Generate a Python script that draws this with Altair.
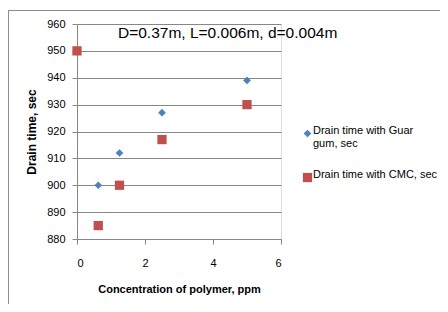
import altair as alt
import pandas as pd

series_names = ["Drain time with Guar gum, sec", "Drain time with CMC, sec"]
guar_x = [0.625, 1.25, 2.5, 5]
guar_y = [900, 912, 927, 939]
cmc_x = [0, 0.625, 1.25, 2.5, 5]
cmc_y = [950, 885, 900, 917, 930]
x_ticks = [0, 2, 4, 6]
y_ticks = [880, 890, 900, 910, 920, 930, 940, 950, 960]
chart_title = "D=0.37m, L=0.006m, d=0.004m"
x_title = "Concentration of polymer, ppm"
y_title = "Drain time, sec"

rows = []
for xv, yv in zip(guar_x, guar_y):
    rows.append({"series": series_names[0], "x": xv, "y": yv})
for xv, yv in zip(cmc_x, cmc_y):
    rows.append({"series": series_names[1], "x": xv, "y": yv})
df = pd.DataFrame(rows)

FONT = "Liberation Sans"
GRAY = "#878787"

legend = alt.Legend(
    title=None,
    orient="none",
    legendX=225,
    legendY=104,
    padding=0,
    labelFont=FONT,
    labelFontSize=11,
    labelColor="#000000",
    labelLimit=0,
    labelOffset=0,
    labelBaseline="alphabetic",
    rowPadding=19,
    labelExpr="datum.label == 'Drain time with Guar gum, sec' ? ['Drain time with Guar', 'gum, sec'] : datum.label",
)

points = alt.Chart(df).mark_point(filled=True, opacity=1, strokeWidth=0).encode(
    x=alt.X(
        "x:Q",
        scale=alt.Scale(domain=[0, 6], nice=False, zero=False),
        axis=alt.Axis(
            values=x_ticks,
            grid=False,
            title=x_title,
            titleFont=FONT,
            titleFontSize=11,
            titleFontWeight="bold",
            titleColor="#000000",
            titleY=50,
            titleBaseline="middle",
            labelFont=FONT,
            labelFontSize=11,
            labelColor="#000000",
            labelPadding=13,
            tickSize=5,
            tickColor=GRAY,
            domainColor=GRAY,
        ),
    ),
    y=alt.Y(
        "y:Q",
        scale=alt.Scale(domain=[880, 960], nice=False, zero=False),
        axis=alt.Axis(
            values=y_ticks,
            grid=True,
            gridColor=GRAY,
            title=y_title,
            titleFont=FONT,
            titleFontSize=12,
            titleFontWeight="bold",
            titleColor="#000000",
            titleX=-46,
            titleBaseline="middle",
            labelFont=FONT,
            labelFontSize=11,
            labelColor="#000000",
            labelPadding=7,
            tickSize=5,
            tickColor=GRAY,
            domainColor=GRAY,
        ),
    ),
    color=alt.Color(
        "series:N",
        scale=alt.Scale(domain=series_names, range=["#4F81BD", "#C0504D"]),
        legend=legend,
    ),
    shape=alt.Shape(
        "series:N",
        scale=alt.Scale(domain=series_names, range=["diamond", "square"]),
        legend=legend,
    ),
    size=alt.Size(
        "series:N",
        scale=alt.Scale(domain=series_names, range=[60, 86]),
        legend=legend,
    ),
)

frame_df = pd.DataFrame({"k": [0]})
top_border = alt.Chart(frame_df).mark_rule(color="#8c8c8c", strokeWidth=1).encode(
    x=alt.value(-69), x2=alt.value(400), y=alt.value(-13.5)
)
left_border = alt.Chart(frame_df).mark_rule(color="#8c8c8c", strokeWidth=1).encode(
    x=alt.value(-68.5), y=alt.value(-13.5), y2=alt.value(300)
)
title_text = alt.Chart(frame_df).mark_text(
    align="left", baseline="middle", font=FONT, fontSize=15.5, color="#000000"
).encode(x=alt.value(41), y=alt.value(9), text=alt.value(chart_title))

chart = alt.layer(top_border, left_border, points, title_text).properties(
    width=204,
    height=215,
    autosize=alt.AutoSizeParams(type="none"),
    padding={"left": 69, "top": 16, "right": 159, "bottom": 65},
).configure_view(stroke=None).configure(background="white")

chart.save("out.html", embed_options={"renderer": "svg", "actions": False})
